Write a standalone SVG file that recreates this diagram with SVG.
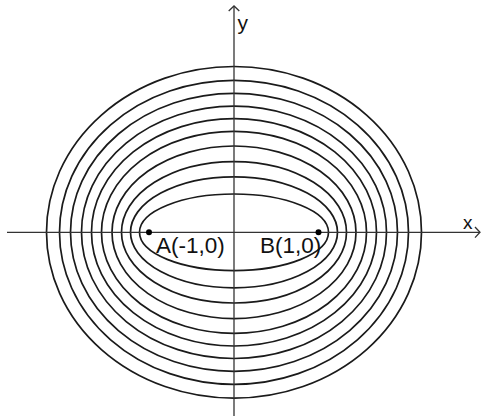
<svg xmlns="http://www.w3.org/2000/svg" width="481" height="416" viewBox="0 0 481 416">
<style>
.e{fill:none;stroke:#1a1a1a;stroke-width:1.7}
.ax{stroke:#333;stroke-width:1.3;fill:none}
.t{font-family:"Liberation Sans",Arial,sans-serif;fill:#111}
</style>
<rect width="481" height="416" fill="#fff"/>
<g id="ellipses">
<ellipse class="e" cx="234" cy="232.3" rx="94.5" ry="38.3"/>
<ellipse class="e" cx="234" cy="232.3" rx="103.5" ry="55.5"/>
<ellipse class="e" cx="234" cy="232.3" rx="112.5" ry="70.7"/>
<ellipse class="e" cx="234" cy="232.3" rx="122" ry="86.3"/>
<ellipse class="e" cx="234" cy="232.3" rx="132.5" ry="101"/>
<ellipse class="e" cx="234" cy="232.3" rx="142.5" ry="113.7"/>
<ellipse class="e" cx="234" cy="232.3" rx="152.5" ry="126.2"/>
<ellipse class="e" cx="234" cy="232.3" rx="163.5" ry="139"/>
<ellipse class="e" cx="234" cy="232.3" rx="174.5" ry="152"/>
<ellipse class="e" cx="234" cy="232.3" rx="187.5" ry="165.8"/>
</g>
<g id="axes">
<line class="ax" x1="7" y1="232.3" x2="480" y2="232.3"/>
<polyline class="ax" points="475,227 480,232.3 475,237.6"/>
<line class="ax" x1="234" y1="6" x2="234" y2="416"/>
<polyline class="ax" points="228.7,11 234,6 239.3,11"/>
<text class="t" x="237.5" y="29.5" font-size="21">y</text>
<text class="t" x="463" y="228.5" font-size="19">x</text>
</g>
<g id="A">
<circle cx="149" cy="232.3" r="3" fill="#000"/>
<text class="t" x="156" y="252.5" font-size="22.5">A(-1,0)</text>
</g>
<g id="B">
<circle cx="318.5" cy="232.3" r="3" fill="#000"/>
<text class="t" x="260" y="252.5" font-size="22.5">B(1,0)</text>
</g>
</svg>
